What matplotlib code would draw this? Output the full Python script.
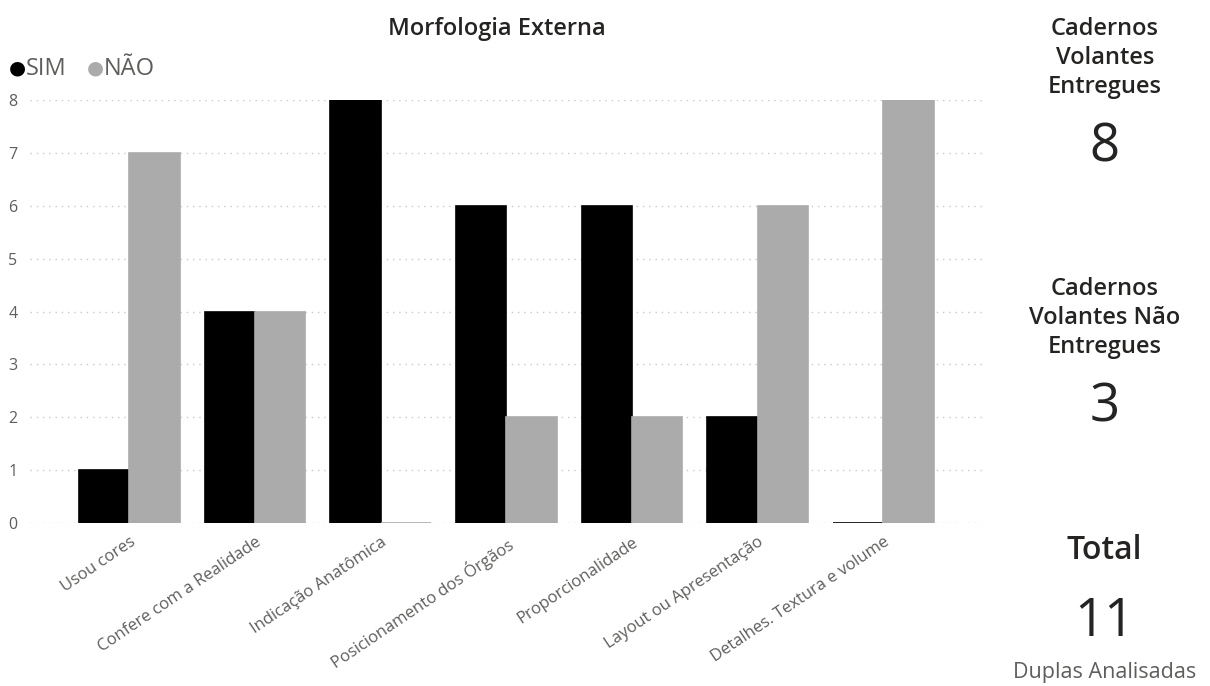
import matplotlib.pyplot as plt
import numpy as np

plt.rcParams['font.family'] = ['Open Sans', 'DejaVu Sans']

categorias = ['Usou cores', 'Confere com a Realidade', 'Indicação Anatômica',
              'Posicionamento dos Órgãos', 'Proporcionalidade',
              'Layout ou Apresentação', 'Detalhes. Textura e volume']
sim = [1, 4, 8, 6, 6, 2, 0]
nao = [7, 4, 0, 2, 2, 6, 8]
yticks = [0, 1, 2, 3, 4, 5, 6, 7, 8]

cartoes = [('Cadernos\nVolantes\nEntregues', '8'),
           ('Cadernos\nVolantes Não\nEntregues', '3'),
           ('Total', '11')]
rodape = 'Duplas Analisadas'

cor_sim = '#000000'
cor_nao = '#ABABAB'
cinza_txt = '#605E5C'
escuro = '#252423'

fig = plt.figure(figsize=(12.1, 6.86), dpi=100)
ax = fig.add_axes([0.0248, 0.2376, 0.7893, 0.6166])

x = np.arange(len(categorias))
w = 0.4
ax.bar(x - w/2, sim, w, color=cor_sim, edgecolor=cor_sim, linewidth=1.2, zorder=3)
ax.bar(x + w/2, nao, w, color=cor_nao, edgecolor=cor_nao, linewidth=1.2, zorder=3)

ax.set_xlim(-0.79, 6.81)
ax.set_ylim(0, 8)
ax.set_yticks(yticks)
ax.yaxis.grid(True, linestyle=(0, (1, 3.5)), color='#C8C8C8', linewidth=1)
ax.set_axisbelow(True)
for s in ax.spines.values():
    s.set_visible(False)
ax.tick_params(axis='both', length=0, colors=cinza_txt, labelsize=11.5)
ax.tick_params(axis='y', pad=9)
ax.set_xticks(x)
ax.set_xticklabels(categorias, rotation=34, ha='right', rotation_mode='anchor',
                   color=cinza_txt, fontsize=12)
ax.tick_params(axis='x', pad=8)

fig.text(0.411, 0.958, 'Morfologia Externa', ha='center', va='center',
         fontsize=17, color=escuro, fontweight='semibold')

# legenda
fig.text(0.007, 0.901, '●', ha='left', va='center', fontsize=14, color=cor_sim,
         family='DejaVu Sans')
fig.text(0.0215, 0.900, 'SIM', ha='left', va='center', fontsize=17, color=cinza_txt)
fig.text(0.0715, 0.901, '●', ha='left', va='center', fontsize=14, color=cor_nao,
         family='DejaVu Sans')
fig.text(0.086, 0.900, 'NÃO', ha='left', va='center', fontsize=17, color=cinza_txt)

# cartões à direita
xc = 0.913
fig.text(xc, 0.9155, cartoes[0][0], ha='center', va='center', fontsize=17,
         fontweight='semibold', color=escuro, linespacing=1.3)
fig.text(xc, 0.784, cartoes[0][1], ha='center', va='center', fontsize=38,
         color=escuro)
fig.text(xc, 0.5364, cartoes[1][0], ha='center', va='center', fontsize=17,
         fontweight='semibold', color=escuro, linespacing=1.3)
fig.text(xc, 0.405, cartoes[1][1], ha='center', va='center', fontsize=38,
         color=escuro)
fig.text(xc, 0.198, cartoes[2][0], ha='center', va='center', fontsize=23,
         fontweight='semibold', color=escuro)
fig.text(xc, 0.0933, cartoes[2][1], ha='center', va='center', fontsize=38,
         color=escuro)
fig.text(xc, 0.0204, rodape, ha='center', va='center', fontsize=15.5,
         color=cinza_txt)

fig.savefig('out.png', dpi=100)
